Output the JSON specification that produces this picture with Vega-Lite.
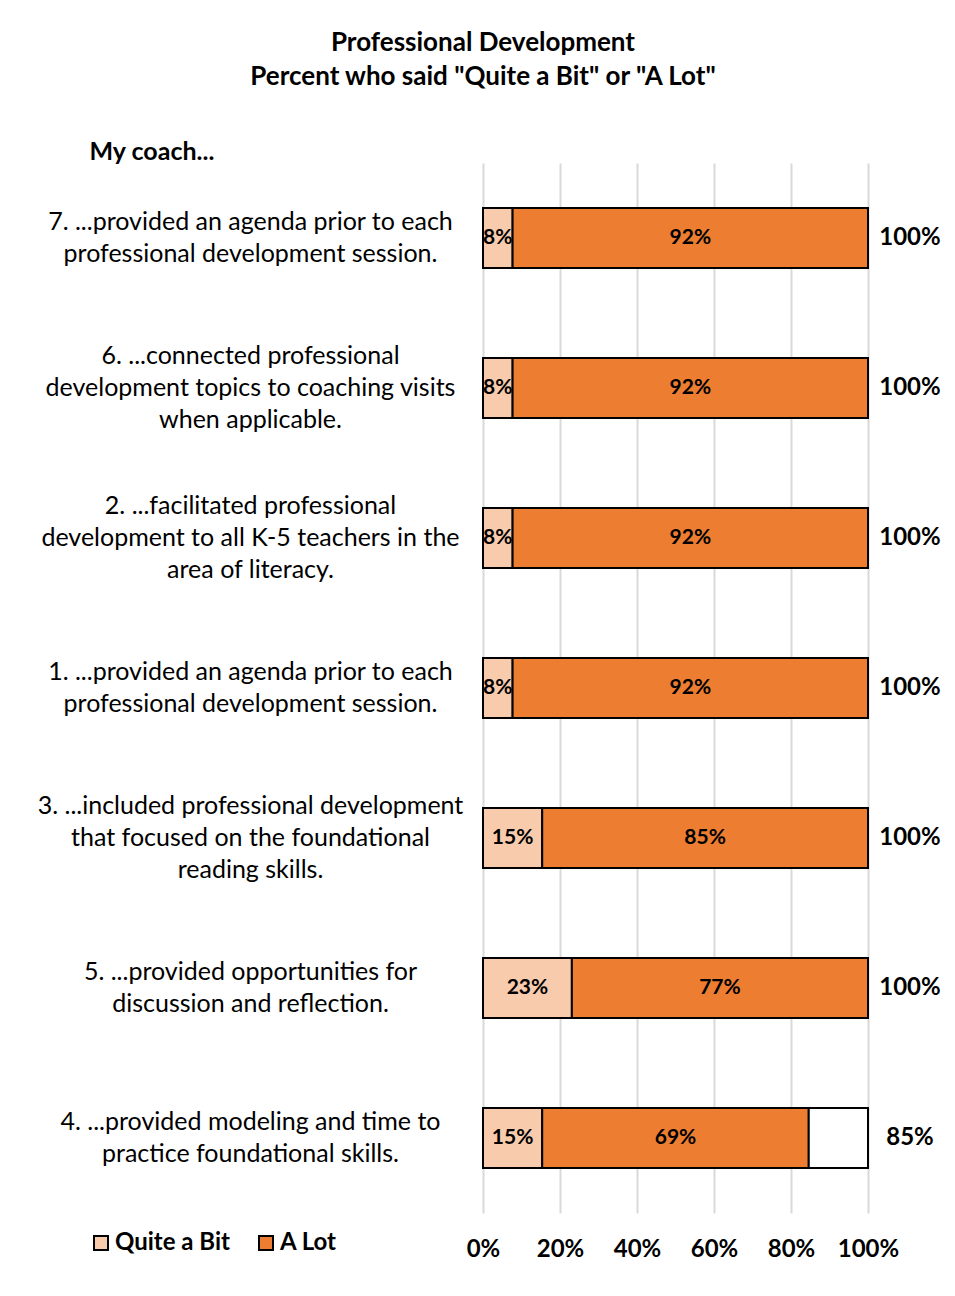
{
  "$schema": "https://vega.github.io/schema/vega-lite/v6.json",
  "width": 385,
  "height": 1050,
  "autosize": {"type": "none"},
  "padding": {"left": 483, "top": 163, "right": 87, "bottom": 83},
  "background": "white",
  "config": {"font": "Lato", "view": {"stroke": null}},
  "title": {
    "text": ["Professional Development", "Percent who said \"Quite a Bit\" or \"A Lot\""],
    "font": "Lato",
    "fontSize": 26,
    "fontWeight": "bold",
    "color": "black",
    "anchor": "middle",
    "frame": "group",
    "dx": -192.5,
    "lineHeight": 34,
    "baseline": "bottom",
    "offset": 23
  },
  "datasets": {
    "segments": [
      {"item": "7. ...provided an agenda prior to each|professional development session.", "category": "Quite a Bit", "seg": 1, "value": 0.0769},
      {"item": "7. ...provided an agenda prior to each|professional development session.", "category": "A Lot", "seg": 2, "value": 0.9231},
      {"item": "6. ...connected professional|development topics to coaching visits|when applicable.", "category": "Quite a Bit", "seg": 1, "value": 0.0769},
      {"item": "6. ...connected professional|development topics to coaching visits|when applicable.", "category": "A Lot", "seg": 2, "value": 0.9231},
      {"item": "2. ...facilitated professional|development to all K-5 teachers in the|area of literacy.", "category": "Quite a Bit", "seg": 1, "value": 0.0769},
      {"item": "2. ...facilitated professional|development to all K-5 teachers in the|area of literacy.", "category": "A Lot", "seg": 2, "value": 0.9231},
      {"item": "1. ...provided an agenda prior to each|professional development session.", "category": "Quite a Bit", "seg": 1, "value": 0.0769},
      {"item": "1. ...provided an agenda prior to each|professional development session.", "category": "A Lot", "seg": 2, "value": 0.9231},
      {"item": "3. ...included professional development|that focused on the foundational|reading skills.", "category": "Quite a Bit", "seg": 1, "value": 0.1538},
      {"item": "3. ...included professional development|that focused on the foundational|reading skills.", "category": "A Lot", "seg": 2, "value": 0.8462},
      {"item": "5. ...provided opportunities for|discussion and reflection.", "category": "Quite a Bit", "seg": 1, "value": 0.2308},
      {"item": "5. ...provided opportunities for|discussion and reflection.", "category": "A Lot", "seg": 2, "value": 0.7692},
      {"item": "4. ...provided modeling and time to|practice foundational skills.", "category": "Quite a Bit", "seg": 1, "value": 0.1538},
      {"item": "4. ...provided modeling and time to|practice foundational skills.", "category": "A Lot", "seg": 2, "value": 0.6923},
      {"item": "4. ...provided modeling and time to|practice foundational skills.", "category": "Rest", "seg": 3, "value": 0.1539}
    ],
    "totals": [
      {"item": "7. ...provided an agenda prior to each|professional development session.", "total": 1.0},
      {"item": "6. ...connected professional|development topics to coaching visits|when applicable.", "total": 1.0},
      {"item": "2. ...facilitated professional|development to all K-5 teachers in the|area of literacy.", "total": 1.0},
      {"item": "1. ...provided an agenda prior to each|professional development session.", "total": 1.0},
      {"item": "3. ...included professional development|that focused on the foundational|reading skills.", "total": 1.0},
      {"item": "5. ...provided opportunities for|discussion and reflection.", "total": 1.0},
      {"item": "4. ...provided modeling and time to|practice foundational skills.", "total": 0.8462}
    ]
  },
  "layer": [
    {
      "data": {"name": "segments"},
      "transform": [
        {"stack": "value", "groupby": ["item"], "sort": [{"field": "seg", "order": "ascending"}], "as": ["v0", "v1"]}
      ],
      "mark": {"type": "bar", "stroke": "black", "strokeWidth": 2},
      "encoding": {
        "y": {
          "field": "item",
          "type": "nominal",
          "sort": null,
          "scale": {"paddingInner": 0.6, "paddingOuter": 0.3},
          "axis": {
            "title": "My coach...",
            "titleAngle": 0,
            "titleAlign": "left",
            "titleBaseline": "middle",
            "titleX": -394,
            "titleY": -12,
            "titleFont": "Lato",
            "titleFontSize": 25,
            "titleFontWeight": "bold",
            "titleColor": "black",
            "labelExpr": "split(datum.label, '|')",
            "labelAlign": "center",
            "labelBaseline": "middle",
            "labelOffset": {"condition": {"test": "length(split(datum.label, '|')) > 2", "value": -32}, "value": -16},
            "labelPadding": 233,
            "labelFont": "Lato",
            "labelFontSize": 25,
            "labelLineHeight": 32,
            "labelColor": "black",
            "labelLimit": 600,
            "ticks": false,
            "tickSize": 0,
            "domain": false,
            "grid": false
          }
        },
        "x": {
          "field": "v0",
          "type": "quantitative",
          "scale": {"domain": [0, 1], "nice": false},
          "axis": {
            "title": null,
            "values": [0, 0.2, 0.4, 0.6, 0.8, 1],
            "format": ".0%",
            "grid": true,
            "gridColor": "#d9d9d9",
            "gridWidth": 2,
            "domain": false,
            "ticks": false,
            "tickSize": 0,
            "labelFlush": false,
            "labelOverlap": false,
            "labelPadding": 24,
            "labelFont": "Lato",
            "labelFontSize": 24,
            "labelFontWeight": "bold",
            "labelColor": "black"
          }
        },
        "x2": {"field": "v1"},
        "color": {
          "field": "category",
          "type": "nominal",
          "scale": {"domain": ["Quite a Bit", "A Lot", "Rest"], "range": ["#F8CBAD", "#ED7D31", "#FFFFFF"]},
          "legend": {
            "orient": "none",
            "legendX": -394,
            "legendY": 1068,
            "direction": "horizontal",
            "title": null,
            "values": ["Quite a Bit", "A Lot"],
            "symbolType": "square",
            "symbolSize": 196,
            "symbolStrokeColor": "black",
            "symbolStrokeWidth": 2,
            "symbolOpacity": 1,
            "labelFont": "Lato",
            "labelFontSize": 24,
            "labelFontWeight": "bold",
            "labelColor": "black",
            "labelOffset": 2,
            "columnPadding": 24,
            "padding": 0
          }
        }
      }
    },
    {
      "data": {"name": "segments"},
      "transform": [
        {"stack": "value", "groupby": ["item"], "sort": [{"field": "seg", "order": "ascending"}], "as": ["v0", "v1"]},
        {"filter": "datum.category != 'Rest'"},
        {"calculate": "(datum.v0 + datum.v1) / 2", "as": "mid"}
      ],
      "mark": {"type": "text", "font": "Lato", "fontSize": 21, "fontWeight": "bold", "color": "black", "align": "center", "baseline": "middle"},
      "encoding": {
        "y": {"field": "item", "type": "nominal", "sort": null},
        "x": {"field": "mid", "type": "quantitative"},
        "text": {"field": "value", "type": "quantitative", "format": ".0%"}
      }
    },
    {
      "data": {"name": "totals"},
      "mark": {"type": "text", "font": "Lato", "fontSize": 24, "fontWeight": "bold", "color": "black", "align": "center", "baseline": "middle", "dx": 42},
      "encoding": {
        "y": {"field": "item", "type": "nominal", "sort": null},
        "x": {"datum": 1, "type": "quantitative"},
        "text": {"field": "total", "type": "quantitative", "format": ".0%"}
      }
    }
  ]
}
